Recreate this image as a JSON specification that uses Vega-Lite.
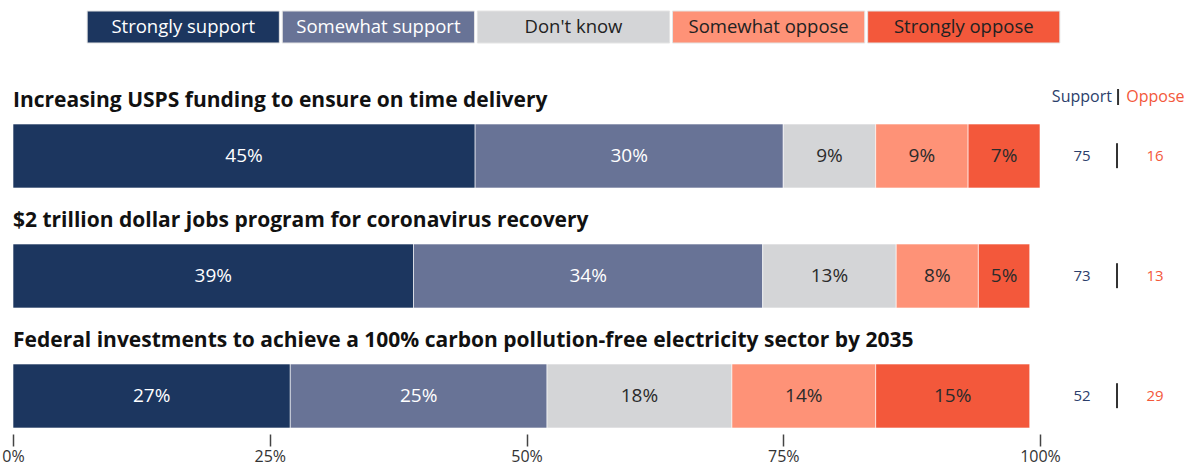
{
  "$schema": "https://vega.github.io/schema/vega-lite/v6.json",
  "padding": {"left": 1, "top": 10, "right": 0, "bottom": 0},
  "background": "white",
  "bounds": "flush",
  "spacing": 33,
  "config": {"view": {"stroke": null}, "font": "Open Sans"},
  "datasets": {
    "responses": [
      {"response": "Strongly support", "rorder": 1},
      {"response": "Somewhat support", "rorder": 2},
      {"response": "Don't know", "rorder": 3},
      {"response": "Somewhat oppose", "rorder": 4},
      {"response": "Strongly oppose", "rorder": 5}
    ],
    "segments": [
      {"question": "Increasing USPS funding to ensure on time delivery", "response": "Strongly support", "rorder": 1, "pct": 45},
      {"question": "Increasing USPS funding to ensure on time delivery", "response": "Somewhat support", "rorder": 2, "pct": 30},
      {"question": "Increasing USPS funding to ensure on time delivery", "response": "Don't know", "rorder": 3, "pct": 9},
      {"question": "Increasing USPS funding to ensure on time delivery", "response": "Somewhat oppose", "rorder": 4, "pct": 9},
      {"question": "Increasing USPS funding to ensure on time delivery", "response": "Strongly oppose", "rorder": 5, "pct": 7},
      {"question": "$2 trillion dollar jobs program for coronavirus recovery", "response": "Strongly support", "rorder": 1, "pct": 39},
      {"question": "$2 trillion dollar jobs program for coronavirus recovery", "response": "Somewhat support", "rorder": 2, "pct": 34},
      {"question": "$2 trillion dollar jobs program for coronavirus recovery", "response": "Don't know", "rorder": 3, "pct": 13},
      {"question": "$2 trillion dollar jobs program for coronavirus recovery", "response": "Somewhat oppose", "rorder": 4, "pct": 8},
      {"question": "$2 trillion dollar jobs program for coronavirus recovery", "response": "Strongly oppose", "rorder": 5, "pct": 5},
      {"question": "Federal investments to achieve a 100% carbon pollution-free electricity sector by 2035", "response": "Strongly support", "rorder": 1, "pct": 27},
      {"question": "Federal investments to achieve a 100% carbon pollution-free electricity sector by 2035", "response": "Somewhat support", "rorder": 2, "pct": 25},
      {"question": "Federal investments to achieve a 100% carbon pollution-free electricity sector by 2035", "response": "Don't know", "rorder": 3, "pct": 18},
      {"question": "Federal investments to achieve a 100% carbon pollution-free electricity sector by 2035", "response": "Somewhat oppose", "rorder": 4, "pct": 14},
      {"question": "Federal investments to achieve a 100% carbon pollution-free electricity sector by 2035", "response": "Strongly oppose", "rorder": 5, "pct": 15}
    ],
    "summary": [
      {"question": "Increasing USPS funding to ensure on time delivery", "support": 75, "oppose": 16, "first": true},
      {"question": "$2 trillion dollar jobs program for coronavirus recovery", "support": 73, "oppose": 13, "first": false},
      {"question": "Federal investments to achieve a 100% carbon pollution-free electricity sector by 2035", "support": 52, "oppose": 29, "first": false}
    ]
  },
  "vconcat": [
    {
      "width": 1121,
      "height": 32,
      "data": {"name": "responses"},
      "encoding": {
        "x": {
          "field": "response", "type": "nominal",
          "sort": ["Strongly support", "Somewhat support", "Don't know", "Somewhat oppose", "Strongly oppose"],
          "scale": {"paddingInner": 0.015, "paddingOuter": 0.38},
          "axis": null
        }
      },
      "layer": [
        {
          "mark": {"type": "bar", "stroke": "#e4e4e4", "strokeWidth": 1},
          "encoding": {
            "color": {
              "field": "response", "type": "nominal",
              "scale": {"domain": ["Strongly support", "Somewhat support", "Don't know", "Somewhat oppose", "Strongly oppose"], "range": ["#1c365f", "#687396", "#d4d5d7", "#fe9277", "#f3583b"]},
              "legend": null
            }
          }
        },
        {
          "mark": {"type": "text", "fontSize": 18.5, "baseline": "middle"},
          "encoding": {
            "text": {"field": "response"},
            "color": {"condition": {"test": "datum.rorder <= 2", "value": "white"}, "value": "#222222"}
          }
        }
      ]
    },
    {
      "width": 1027,
      "height": 352,
      "encoding": {
        "y": {
          "field": "question", "type": "nominal",
          "scale": {
            "domain": ["Increasing USPS funding to ensure on time delivery", "$2 trillion dollar jobs program for coronavirus recovery", "Federal investments to achieve a 100% carbon pollution-free electricity sector by 2035"],
            "paddingInner": 0.4667, "paddingOuter": 0.2, "align": 1
          },
          "axis": null
        }
      },
      "layer": [
        {
          "data": {"name": "segments"},
          "transform": [
            {"stack": "pct", "groupby": ["question"], "sort": [{"field": "rorder"}], "as": ["x0", "x1"]}
          ],
          "mark": {"type": "bar", "stroke": "white", "strokeWidth": 0.6},
          "encoding": {
            "x": {
              "field": "x0", "type": "quantitative",
              "scale": {"domain": [0, 100], "nice": false, "zero": true},
              "title": null,
              "axis": {
                "domain": false, "grid": false, "ticks": true, "tickColor": "#444444", "tickSize": 12, "tickWidth": 1.5,
                "offset": 6, "labelFontSize": 16, "labelColor": "#333333", "labelPadding": 2,
                "values": [0, 25, 50, 75, 100], "labelExpr": "datum.value + '%'", "labelFlush": false
              }
            },
            "x2": {"field": "x1"},
            "color": {
              "field": "response", "type": "nominal",
              "scale": {"domain": ["Strongly support", "Somewhat support", "Don't know", "Somewhat oppose", "Strongly oppose"], "range": ["#1c365f", "#687396", "#d4d5d7", "#fe9277", "#f3583b"]},
              "legend": null
            }
          }
        },
        {
          "data": {"name": "segments"},
          "transform": [
            {"stack": "pct", "groupby": ["question"], "sort": [{"field": "rorder"}], "as": ["x0", "x1"]},
            {"calculate": "(datum.x0 + datum.x1) / 2", "as": "mid"},
            {"calculate": "datum.pct + '%'", "as": "label"}
          ],
          "mark": {"type": "text", "fontSize": 19, "baseline": "middle"},
          "encoding": {
            "x": {"field": "mid", "type": "quantitative", "title": null},
            "text": {"field": "label"},
            "color": {"condition": {"test": "datum.rorder <= 2", "value": "white"}, "value": "#2b2b2b"}
          }
        },
        {
          "data": {"name": "summary"},
          "mark": {"type": "text", "fontSize": 21, "fontWeight": "bold", "align": "left", "baseline": "middle", "dy": -55, "color": "#111111"},
          "encoding": {
            "x": {"datum": 0, "type": "quantitative", "title": null},
            "text": {"field": "question"}
          }
        },
        {
          "data": {"name": "summary"},
          "mark": {"type": "text", "fontSize": 15, "align": "center", "baseline": "middle", "color": "#2c3e6b"},
          "encoding": {
            "x": {"datum": 104.1, "type": "quantitative", "title": null},
            "text": {"field": "support"}
          }
        },
        {
          "data": {"name": "summary"},
          "mark": {"type": "text", "fontSize": 15, "align": "center", "baseline": "middle", "color": "#f3583b"},
          "encoding": {
            "x": {"datum": 111.2, "type": "quantitative", "title": null},
            "text": {"field": "oppose"}
          }
        },
        {
          "data": {"name": "summary"},
          "mark": {"type": "rule", "color": "#333333", "strokeWidth": 2},
          "encoding": {
            "x": {"datum": 107.5, "type": "quantitative", "title": null},
            "y": {"field": "question", "type": "nominal", "bandPosition": 0.3},
            "y2": {"field": "question", "bandPosition": 0.69}
          }
        },
        {
          "data": {"name": "summary"},
          "transform": [{"filter": "datum.first"}],
          "mark": {"type": "text", "fontSize": 16, "align": "right", "baseline": "middle", "dy": -27, "color": "#2c3e6b", "text": "Support"},
          "encoding": {
            "x": {"datum": 107.0, "type": "quantitative", "title": null},
            "y": {"field": "question", "type": "nominal", "bandPosition": 0}
          }
        },
        {
          "data": {"name": "summary"},
          "transform": [{"filter": "datum.first"}],
          "mark": {"type": "text", "fontSize": 16, "align": "left", "baseline": "middle", "dy": -27, "color": "#f3583b", "text": "Oppose"},
          "encoding": {
            "x": {"datum": 108.4, "type": "quantitative", "title": null},
            "y": {"field": "question", "type": "nominal", "bandPosition": 0}
          }
        },
        {
          "data": {"name": "summary"},
          "transform": [{"filter": "datum.first"}],
          "mark": {"type": "rule", "color": "#333333", "strokeWidth": 2, "yOffset": -35, "y2Offset": -19},
          "encoding": {
            "x": {"datum": 107.6, "type": "quantitative", "title": null},
            "y": {"field": "question", "type": "nominal", "bandPosition": 0},
            "y2": {"field": "question", "bandPosition": 0}
          }
        }
      ]
    }
  ]
}
